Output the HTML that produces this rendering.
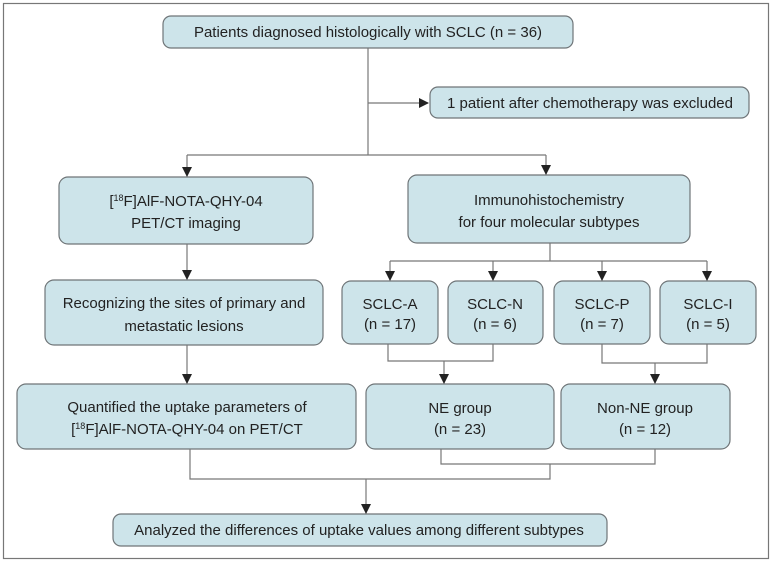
<!DOCTYPE html>
<html><head><meta charset="utf-8"><style>
html,body{margin:0;padding:0;background:#fff;}
svg text{font-family:"Liberation Sans",sans-serif;font-size:15px;fill:#222;text-anchor:middle;}
</style></head><body>
<svg width="773" height="563" viewBox="0 0 773 563" xmlns="http://www.w3.org/2000/svg">
<defs><marker id="a" markerWidth="10" markerHeight="10" refX="9" refY="5" orient="auto" markerUnits="userSpaceOnUse"><path d="M0,0 L10,5 L0,10 Z" fill="#222"/></marker></defs>
<rect x="3.5" y="3.5" width="765" height="555" fill="#fff" stroke="#777" stroke-width="1.2"/>
<g fill="#cde4ea" stroke="#6f7578" stroke-width="1.2">
<rect x="163" y="16" width="410" height="32" rx="8"/>
<rect x="430" y="87" width="319" height="31" rx="8"/>
<rect x="59" y="177" width="254" height="67" rx="9"/>
<rect x="408" y="175" width="282" height="68" rx="9"/>
<rect x="45" y="280" width="278" height="65" rx="9"/>
<rect x="342" y="281" width="96" height="63" rx="9"/>
<rect x="448" y="281" width="95" height="63" rx="9"/>
<rect x="554" y="281" width="96" height="63" rx="9"/>
<rect x="660" y="281" width="96" height="63" rx="9"/>
<rect x="17" y="384" width="339" height="65" rx="9"/>
<rect x="366" y="384" width="188" height="65" rx="9"/>
<rect x="561" y="384" width="169" height="65" rx="9"/>
<rect x="113" y="514" width="494" height="32" rx="8"/>
</g>
<g fill="none" stroke="#777" stroke-width="1.2">
<path d="M368,48 V155"/>
<path d="M368,103 H428" marker-end="url(#a)"/>
<path d="M187,155 H546"/>
<path d="M187,155 V176" marker-end="url(#a)"/>
<path d="M546,155 V174" marker-end="url(#a)"/>
<path d="M187,244 V279" marker-end="url(#a)"/>
<path d="M187,345 V383" marker-end="url(#a)"/>
<path d="M550,243 V261 M390,261 H707"/>
<path d="M390,261 V280" marker-end="url(#a)"/>
<path d="M493,261 V280" marker-end="url(#a)"/>
<path d="M602,261 V280" marker-end="url(#a)"/>
<path d="M707,261 V280" marker-end="url(#a)"/>
<path d="M388,344 V361 H493 V344"/>
<path d="M444,361 V383" marker-end="url(#a)"/>
<path d="M602,344 V363 H707 V344"/>
<path d="M655,363 V383" marker-end="url(#a)"/>
<path d="M441,449 V464 H655 V449"/>
<path d="M190,449 V479 H550 V464"/>
<path d="M366,479 V513" marker-end="url(#a)"/>
</g>
<text x="368" y="37">Patients diagnosed histologically with SCLC (n = 36)</text>
<text x="590" y="108">1 patient after chemotherapy was excluded</text>
<text x="186" y="206">[<tspan font-size="9" dy="-5">18</tspan><tspan dy="5">F]AlF-NOTA-QHY-04</tspan></text>
<text x="186" y="228">PET/CT imaging</text>
<text x="549" y="205">Immunohistochemistry</text>
<text x="549" y="227">for four molecular subtypes</text>
<text x="184" y="308">Recognizing the sites of primary and</text>
<text x="184" y="331">metastatic lesions</text>
<text x="390" y="309">SCLC-A</text><text x="390" y="329">(n = 17)</text>
<text x="495" y="309">SCLC-N</text><text x="495" y="329">(n = 6)</text>
<text x="602" y="309">SCLC-P</text><text x="602" y="329">(n = 7)</text>
<text x="708" y="309">SCLC-I</text><text x="708" y="329">(n = 5)</text>
<text x="187" y="412">Quantified the uptake parameters of</text>
<text x="187" y="434">[<tspan font-size="9" dy="-5">18</tspan><tspan dy="5">F]AlF-NOTA-QHY-04 on PET/CT</tspan></text>
<text x="460" y="413">NE group</text><text x="460" y="434">(n = 23)</text>
<text x="645" y="413">Non-NE group</text><text x="645" y="434">(n = 12)</text>
<text x="359" y="535">Analyzed the differences of uptake values among different subtypes</text>
</svg>
</body></html>
